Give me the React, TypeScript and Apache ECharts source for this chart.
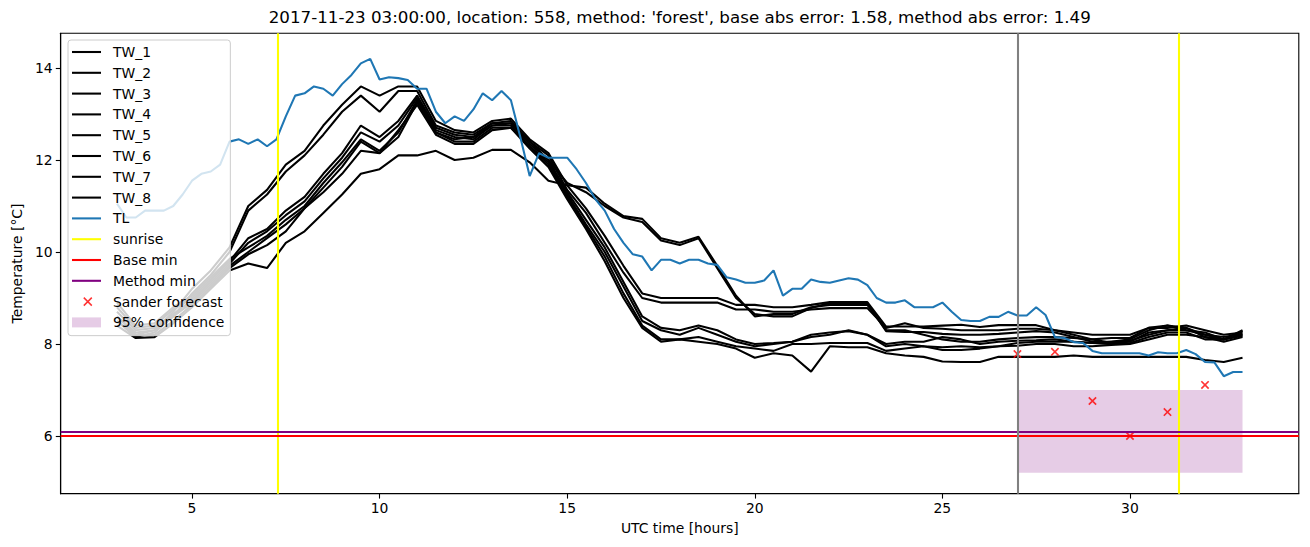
import React, { useEffect, useRef } from 'react';
import * as echarts from 'echarts';

// ---- data ----
const startHour = 3;
const twStep = 0.5;
const tlStep = 0.25;

const tw1 = [8.6, 8.2, 8.3, 8.7, 9.2, 9.6, 10.1,
  11.0, 11.35, 11.9, 12.2, 12.75, 13.2, 13.6, 13.4, 13.6, 13.6,
  12.85, 12.65, 12.6, 12.85, 12.9, 12.45, 12.15,
  11.45, 10.95, 10.35, 9.7, 9.1, 9.0, 9.0, 9.0, 9.0, 8.85,
  8.85, 8.8, 8.8, 8.85, 8.91, 8.91, 8.91,
  8.38, 8.38, 8.38, 8.4, 8.42, 8.37, 8.41, 8.41, 8.41,
  8.3, 8.2, 8.1, 8.13, 8.13, 8.35, 8.4, 8.35, 8.15, 8.1, 8.3];
const tw2 = [8.5, 8.15, 8.25, 8.6, 9.1, 9.5, 10.0,
  10.9, 11.25, 11.75, 12.1, 12.55, 13.05, 13.4, 13.05, 13.5, 13.5,
  12.75, 12.6, 12.55, 12.8, 12.85, 12.4, 12.1,
  11.35, 10.85, 10.2, 9.55, 9.0, 8.9, 8.9, 8.9, 8.9, 8.75,
  8.75, 8.7, 8.7, 8.75, 8.78, 8.78, 8.78,
  8.35, 8.45, 8.35, 8.33, 8.3, 8.3, 8.3, 8.33, 8.33,
  8.3, 8.25, 8.2, 8.2, 8.2, 8.35, 8.35, 8.4, 8.3, 8.2, 8.25];
const tw3 = [8.8, 8.35, 8.4, 8.75, 9.0, 9.4, 9.8,
  10.3, 10.5, 10.9, 11.2, 11.7, 12.15, 12.75, 12.5, 12.85, 13.4,
  12.7, 12.55, 12.5, 12.8, 12.8, 12.35, 12.0,
  11.3, 10.7, 10.1, 9.35, 8.6, 8.35, 8.3, 8.4, 8.3, 8.1,
  8.0, 8.02, 8.05, 8.2, 8.25, 8.28, 8.2,
  8.0, 8.05, 8.05, 8.15, 8.1, 8.0, 8.05, 8.07, 8.08,
  8.1, 8.05, 8.02, 8.05, 8.07, 8.2, 8.3, 8.3, 8.2, 8.15, 8.22];
const tw4 = [8.7, 8.3, 8.35, 8.65, 8.95, 9.35, 9.75,
  10.2, 10.45, 10.8, 11.1, 11.6, 12.05, 12.6, 12.4, 12.75, 13.35,
  12.65, 12.5, 12.45, 12.75, 12.75, 12.3, 11.95,
  11.25, 10.6, 10.0, 9.25, 8.5, 8.3, 8.2, 8.35, 8.2, 8.05,
  7.95, 8.0, 8.05, 8.15, 8.2, 8.3, 8.2,
  7.95, 8.0, 7.95, 7.93, 7.95, 7.93, 7.95, 8.02, 8.05,
  8.05, 8.05, 8.02, 8.0, 8.02, 8.15, 8.25, 8.25, 8.1, 8.1, 8.18];
const tw5 = [8.9, 8.4, 8.45, 8.8, 9.05, 9.45, 9.85,
  10.1, 10.35, 10.7, 11.0, 11.5, 11.95, 12.45, 12.2, 12.6, 13.3,
  12.6, 12.4, 12.4, 12.7, 12.7, 12.3, 11.9,
  11.2, 10.55, 9.9, 9.1, 8.4, 8.1, 8.1, 8.15, 8.05, 7.95,
  7.9, 7.85, 8.0, 8.0, 8.02, 8.02, 8.02,
  7.85, 7.9, 7.95, 7.87, 7.87, 7.9, 7.95, 7.96, 8.0,
  8.0, 7.95, 7.95, 7.98, 8.0, 8.1, 8.2, 8.2, 8.15, 8.05, 8.15];
const tw6 = [8.6, 8.25, 8.3, 8.6, 8.9, 9.3, 9.7,
  10.0, 10.3, 10.6, 10.95, 11.4, 11.85, 12.4, 12.15, 12.65, 13.2,
  12.55, 12.35, 12.35, 12.65, 12.7, 12.25, 11.85,
  11.15, 10.5, 9.8, 9.0, 8.35, 8.05, 8.1, 8.05, 8.0, 7.9,
  7.7, 7.8, 7.75, 7.4, 7.95, 7.93, 7.93,
  7.8, 7.75, 7.72, 7.62, 7.61, 7.61, 7.72, 7.72, 7.72,
  7.72, 7.75, 7.72, 7.72, 7.72, 7.72, 7.72, 7.72, 7.65, 7.61, 7.7];
const tw7 = [8.5, 8.2, 8.2, 8.5, 8.85, 9.25, 9.65,
  9.95, 10.15, 10.45, 10.95, 11.3, 11.7, 12.2, 12.15, 12.5, 13.25,
  12.6, 12.45, 12.5, 12.75, 12.8, 12.4, 12.0,
  11.5, 11.3, 11.0, 10.75, 10.65, 10.25, 10.15, 10.3, 9.65, 9.0,
  8.65, 8.6, 8.6, 8.78, 8.89, 8.89, 8.89,
  8.28, 8.26, 8.26, 8.22, 8.2, 8.2, 8.22, 8.25, 8.28,
  8.25, 8.15, 8.05, 8.05, 8.1, 8.3, 8.4, 8.3, 8.25, 8.1, 8.2];
const tw8 = [8.4, 8.13, 8.15, 8.45, 8.8, 9.2, 9.6,
  9.75, 9.65, 10.2, 10.45, 10.85, 11.25, 11.7, 11.8, 12.1, 12.1,
  12.2, 12.0, 12.05, 12.22, 12.22, 11.95, 11.55,
  11.45, 11.4, 11.05, 10.78, 10.72, 10.3, 10.2, 10.33, 9.7, 9.05,
  8.6, 8.65, 8.65, 8.8, 8.85, 8.85, 8.85,
  8.3, 8.3, 8.2, 8.1, 8.05, 8.05, 8.1, 8.13, 8.15,
  8.15, 8.13, 8.1, 8.02, 8.05, 8.25, 8.3, 8.35, 8.2, 8.1, 8.28];

const tl = [11.05, 10.75, 10.75, 10.9, 10.9, 10.9, 11.0, 11.25, 11.55, 11.7, 11.75, 11.9, 12.4,
  12.45, 12.35, 12.45, 12.3, 12.45, 12.95, 13.4, 13.45, 13.6, 13.55, 13.4, 13.65,
  13.85, 14.1, 14.2, 13.75, 13.8, 13.78, 13.74, 13.55, 13.55, 13.05, 12.8, 12.95,
  12.85, 13.1, 13.45, 13.3, 13.5, 13.3, 12.5, 11.65, 12.15, 12.05, 12.05, 12.05,
  11.8, 11.5, 11.15, 10.9, 10.5, 10.2, 9.95, 9.9, 9.6, 9.83, 9.83, 9.75,
  9.83, 9.83, 9.75, 9.72, 9.45, 9.4, 9.33, 9.33, 9.38, 9.6, 9.05, 9.2,
  9.2, 9.4, 9.35, 9.33, 9.38, 9.43, 9.4, 9.28, 9.0, 8.9, 8.9, 8.95,
  8.8, 8.8, 8.8, 8.9, 8.7, 8.52, 8.5, 8.5, 8.59, 8.59, 8.7, 8.62,
  8.62, 8.8, 8.63, 8.15, 8.13, 8.04, 8.02, 7.85, 7.8, 7.8, 7.8, 7.8,
  7.8, 7.75, 7.82, 7.8, 7.8, 7.87, 7.78, 7.61, 7.6, 7.3, 7.39, 7.39];

const twNames = ['TW_1', 'TW_2', 'TW_3', 'TW_4', 'TW_5', 'TW_6', 'TW_7', 'TW_8'];
const twSeries = [tw1, tw2, tw3, tw4, tw5, tw6, tw7, tw8];

const sunriseHours = [7.28, 31.3];
const baseMin = 6.01;
const methodMin = 6.09;
const forecastStart = 27;
const sanderHours = [27, 28, 29, 30, 31, 32];
const sanderTemps = [7.78, 7.83, 6.76, 6.0, 6.52, 7.11];
const confHours = [27, 33];
const confTemps = [5.2, 7.0];

const xTicks = [5, 10, 15, 20, 25, 30];
const yTicks = [6, 8, 10, 12, 14];
const titleText = "2017-11-23 03:00:00, location: 558, method: 'forest', base abs error: 1.58, method abs error: 1.49";

// ---- styling ----
const FONT = "'DejaVu Sans', sans-serif";
const FS = 13.9;
const LW = 2.08;
const LINE_ICON = 'path://M0,0M36,10M0,3.96H29V6.04H0Z';
const RECT_ICON = 'path://M0,0M36,10M0,0H29V10H0Z';
const X_ICON = 'path://M0,0M36,10M12.33,0.47L20.33,8.47L19.27,9.53L11.27,1.53ZM20.33,1.53L12.33,9.53L11.27,8.47L19.27,0.47Z';
const X_SYMBOL = 'path://M1.64,0.36L9.64,8.36L8.36,9.64L0.36,1.64ZM9.64,1.64L1.64,9.64L0.36,8.36L8.36,0.36Z';

const pairs = (vals: number[], step: number) => vals.map((v, i) => [startHour + i * step, v]);

const markLineSeries = (name: string, color: string, data: any[]) => ({
  name, type: 'line', data: [], color,
  markLine: { silent: true, symbol: ['none', 'none'], label: { show: false },
    lineStyle: { color, width: LW, type: 'solid' }, emphasis: { disabled: true }, data },
});

export default function App() {
  const ref = useRef<HTMLDivElement>(null);
  useEffect(() => {
    document.body.style.margin = '0';
    if (!ref.current) return;
    const chart = echarts.init(ref.current, undefined, { renderer: 'svg' });

    const series: any[] = [];
    twSeries.forEach((vals, k) => {
      series.push({
        name: twNames[k], type: 'line', data: pairs(vals, twStep), symbol: 'none',
        color: '#000000', lineStyle: { color: '#000000', width: LW }, z: 2,
      });
    });
    series.push({
      name: 'TL', type: 'line', data: pairs(tl, tlStep), symbol: 'none',
      color: '#1f77b4', lineStyle: { color: '#1f77b4', width: LW }, z: 2,
    });
    series.push(markLineSeries('sunrise', '#ffff00', sunriseHours.map((h) => ({ xAxis: h }))));
    series.push(markLineSeries('Base min', '#ff0000', [{ yAxis: baseMin }]));
    series.push(markLineSeries('Method min', '#800080', [{ yAxis: methodMin }]));
    series.push(markLineSeries('forecast time', '#808080', [{ xAxis: forecastStart }]));
    series.push({
      name: 'Sander forecast', type: 'scatter', symbol: X_SYMBOL, symbolSize: 8.5,
      color: '#ff0000', itemStyle: { color: '#ff0000' }, z: 3,
      data: sanderHours.map((h, i) => [h, sanderTemps[i]]),
    });
    series.push({
      name: '95% confidence', type: 'line', data: [], color: 'rgba(128,0,128,0.2)',
      markArea: { silent: true, itemStyle: { color: 'rgba(128,0,128,0.2)' },
        data: [[{ coord: [confHours[0], confTemps[0]] }, { coord: [confHours[1], confTemps[1]] }]] },
    });

    const legendData = [
      ...twNames.map((n) => ({ name: n, icon: LINE_ICON, itemStyle: { color: '#000000', borderWidth: 0 } })),
      { name: 'TL', icon: LINE_ICON, itemStyle: { color: '#1f77b4', borderWidth: 0 } },
      { name: 'sunrise', icon: LINE_ICON, itemStyle: { color: '#ffff00', borderWidth: 0 } },
      { name: 'Base min', icon: LINE_ICON, itemStyle: { color: '#ff0000', borderWidth: 0 } },
      { name: 'Method min', icon: LINE_ICON, itemStyle: { color: '#800080', borderWidth: 0 } },
      { name: 'Sander forecast', icon: X_ICON, itemStyle: { color: '#ff0000', borderWidth: 0 } },
      { name: '95% confidence', icon: RECT_ICON, itemStyle: { color: 'rgba(128,0,128,0.2)', borderWidth: 0 } },
    ];

    chart.setOption({
      animation: false,
      grid: { left: 60.7, right: 11.2, top: 33.3, bottom: 53.3, show: true, borderColor: '#000', borderWidth: 1.1 },
      xAxis: {
        type: 'value', min: 1.5, max: 34.5,
        axisLine: { show: true, lineStyle: { color: '#000', width: 1.1 } },
        axisTick: { show: true, inside: false, length: 4.9, lineStyle: { color: '#000', width: 1.1 }, customValues: xTicks },
        axisLabel: { color: '#000', fontSize: FS, fontFamily: FONT, margin: 7, customValues: xTicks },
        splitLine: { show: false },
        name: 'UTC time [hours]', nameLocation: 'middle', nameGap: 27,
        nameTextStyle: { color: '#000', fontSize: FS, fontFamily: FONT },
      },
      yAxis: {
        type: 'value', min: 4.745, max: 14.755,
        axisLine: { show: true, lineStyle: { color: '#000', width: 1.1 } },
        axisTick: { show: true, inside: false, length: 4.9, lineStyle: { color: '#000', width: 1.1 }, customValues: yTicks },
        axisLabel: { color: '#000', fontSize: FS, fontFamily: FONT, margin: 8, customValues: yTicks },
        splitLine: { show: false },
        name: 'Temperature [°C]', nameLocation: 'middle', nameGap: 35,
        nameTextStyle: { color: '#000', fontSize: FS, fontFamily: FONT },
      },
      legend: {
        show: true, orient: 'vertical', left: 68, top: 40,
        padding: [2.25, 6, 3.5, 4], itemGap: 1.3, itemWidth: 36, itemHeight: 10,
        backgroundColor: 'rgba(255,255,255,0.8)', borderColor: '#cccccc', borderWidth: 1, borderRadius: 3,
        textStyle: { color: '#000', fontSize: FS, fontFamily: FONT, lineHeight: 19.5 },
        itemStyle: { borderWidth: 0 },
        selectedMode: false,
        z: 10,
        data: legendData,
      },
      graphic: [{
        type: 'text', x: 679.75, y: 17, z: 20,
        style: { text: titleText, fill: '#000', fontSize: 16.7, fontFamily: FONT, align: 'center', verticalAlign: 'middle' },
      }],
      series,
    });
    return () => chart.dispose();
  }, []);
  return <div ref={ref} style={{ width: 1310, height: 547 }} />;
}
